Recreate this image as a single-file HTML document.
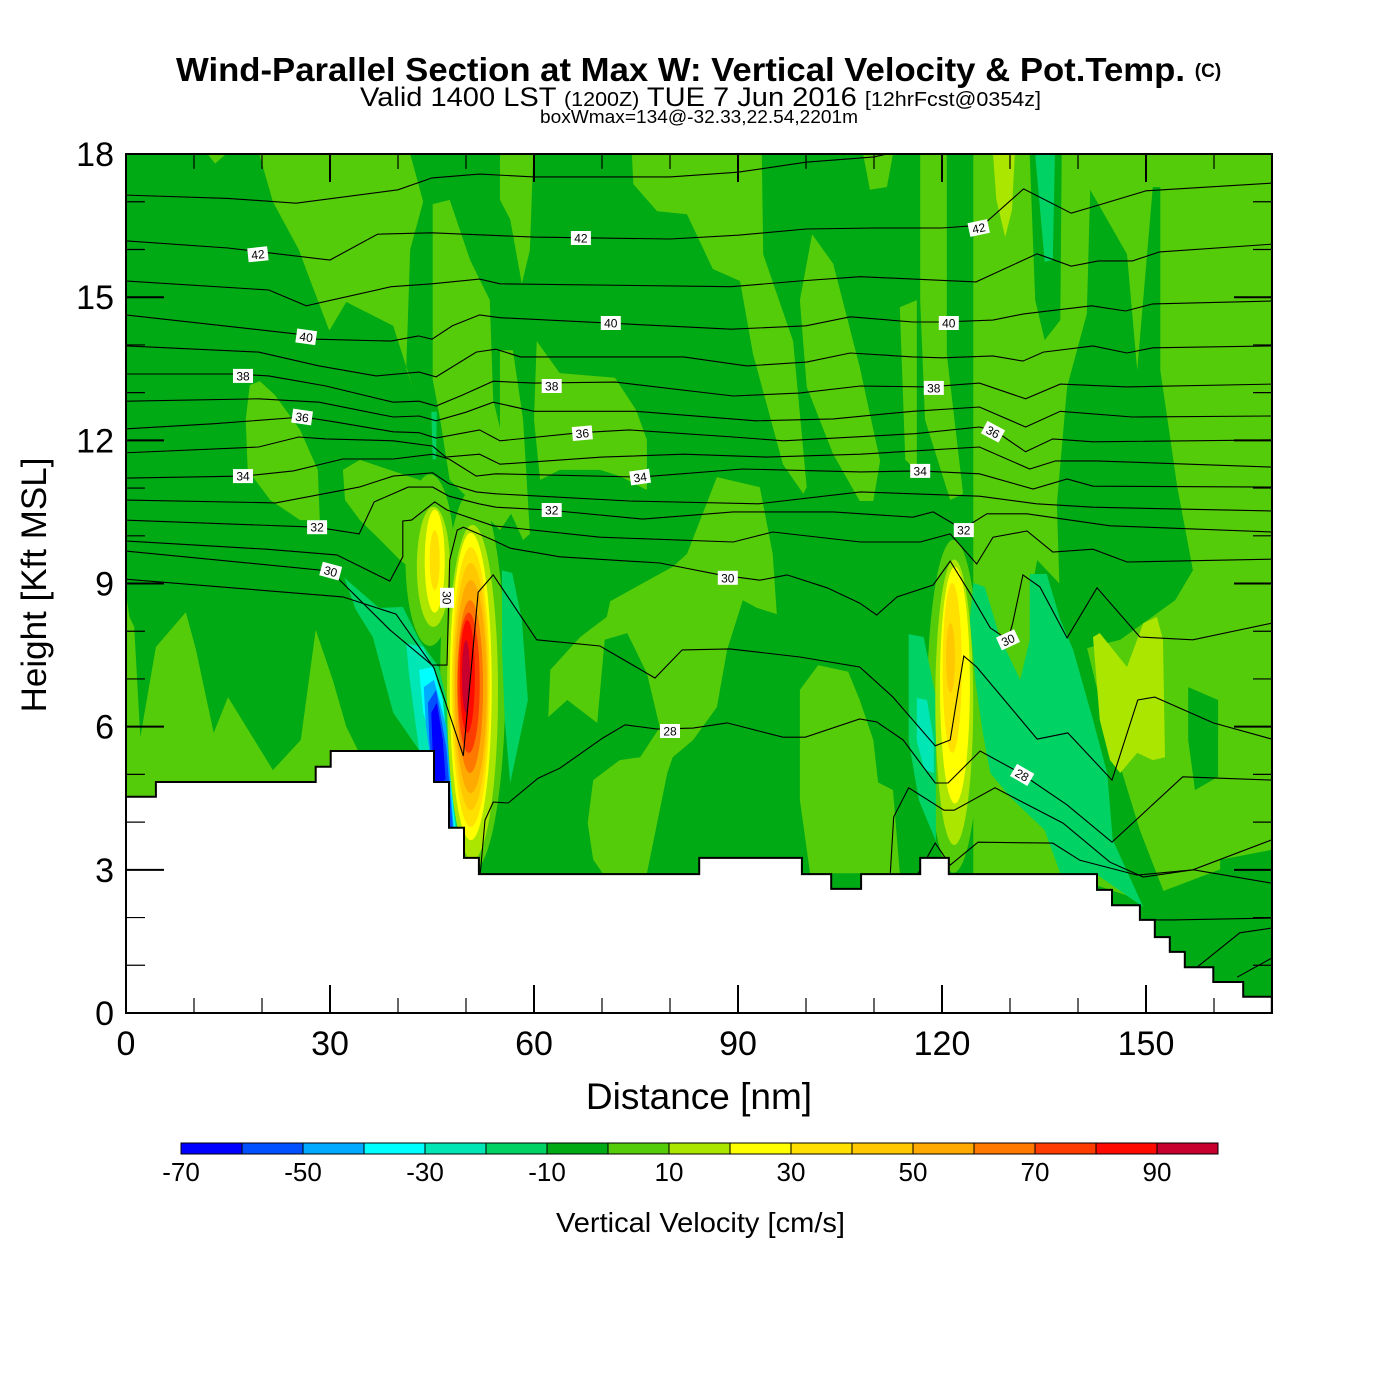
<!DOCTYPE html>
<html><head><meta charset="utf-8"><title>Wind-Parallel Section</title>
<style>
html,body{margin:0;padding:0;background:#fff;}
svg{display:block;font-family:"Liberation Sans",Arial,sans-serif;}
</style></head>
<body>
<svg id="chart" width="1400" height="1400" viewBox="0 0 1400 1400" xmlns="http://www.w3.org/2000/svg">
<rect x="0" y="0" width="1400" height="1400" fill="#ffffff"/>
<g>
<text x="176" y="81" textLength="1009" lengthAdjust="spacingAndGlyphs" font-size="33" font-weight="bold">Wind-Parallel Section at Max W: Vertical Velocity &amp; Pot.Temp.</text>
<text x="1208" y="77" text-anchor="middle" font-size="19" font-weight="bold">(C)</text>
<text x="360" y="106" textLength="681" lengthAdjust="spacingAndGlyphs" font-size="27">Valid 1400 LST <tspan font-size="20">(1200Z)</tspan> TUE 7 Jun 2016 <tspan font-size="20">[12hrFcst@0354z]</tspan></text>
<text x="540" y="123" textLength="318" lengthAdjust="spacingAndGlyphs" font-size="18">boxWmax=134@-32.33,22.54,2201m</text>
</g>
<defs><clipPath id="plotClip"><rect x="126" y="154" width="1146" height="859"/></clipPath></defs>
<g id="plot" clip-path="url(#plotClip)"></g>
<g id="axes"></g>
<g id="cbar"></g>
</svg>
<script>
// ---------------- data ----------------
var binColors = ["#0000ff","#0050ff","#00aaff","#00ffff","#00e6b4","#00d264","#00aa14","#55cc0a","#aae600","#ffff00","#ffe000","#ffc800","#ffaa00","#ff7800","#ff3c00","#ff0a00","#c8002d"];
var binEdges = [-70,-60,-50,-40,-30,-20,-10,0,10,20,30,40,50,60,70,80,90,100];
var cbarTicks = [-70,-50,-30,-10,10,30,50,70,90];
var xTicks = [0,30,60,90,120,150];
var yTicks = [0,3,6,9,12,15,18];

var lightRegions = [
 [[19.6,18],[41.8,18],[43.7,17.0],[41.8,16.0],[41.2,13.5],[42.2,13.1],[39.3,14.4],[32.4,14.9],[29.9,14.3],[27.5,15.2],[25.4,16.0],[21.6,17.0]],
 [[12,18],[14.7,18],[13.1,17.8]],
 [[45.1,16.95],[47.6,17.04],[50.6,15.78],[53.5,14.94],[54,12.85],[56.5,11.38],[58,10.75],[55,10.12],[50.6,10.75],[47.6,11.17],[46.2,12.43],[45.1,13.28]],
 [[55,18],[59.9,18],[59.4,15.99],[58.2,15.28],[56.5,16.63],[55,17.04]],
 [[74.4,18],[93.5,18],[93.7,15.9],[98.1,14.08],[100.1,11.02],[99.6,10.88],[96.6,11.5],[92.2,13.81],[90.3,15.34],[86.3,15.59],[82.5,16.74],[78.1,16.8],[74.6,17.37]],
 [[100.9,16.32],[104,15.7],[107.9,13.54],[110.9,11.57],[109.9,10.73],[107.9,10.73],[104,11.71],[100.1,13.12],[99.1,14.94]],
 [[60.4,14.08],[63.8,13.41],[71.9,13.31],[75,12.64],[76.6,12.01],[76.6,10.96],[72.6,11.25],[69.7,11.38],[63.8,11.38],[60.9,11.17],[60,12.43]],
 [[55,13.89],[56.9,13.89],[58.4,12.43],[59.4,10.04],[58.4,9.91],[55.7,10.75],[55,11.8]],
 [[71.2,8.63],[80.4,9.35],[82.5,9.62],[86.9,11.23],[93.2,11.02],[95.1,9.62],[95.7,8.36],[92.8,8.49],[90.7,8.65],[88.4,7.61],[86.9,6.41],[83.4,5.72],[80.4,5.36],[79.6,5.03],[76.6,2.93],[70.1,2.93],[68.7,3.21],[67.9,3.98],[68.7,4.88],[72.6,5.3],[75.6,5.36],[78.5,5.99],[76.6,7.12],[73.7,7.96],[70.4,7.82],[69.3,6.08],[64.9,6.56],[62.1,6.2],[62.4,7.19],[66.8,7.88],[70.7,8.3]],
 [[99.1,6.77],[101.8,7.29],[106.2,7.15],[107.9,6.56],[109.9,5.72],[110.9,4.46],[110.9,2.93],[100.6,2.93],[99.1,4.46]],
 [[0,8.8],[0.5,8.3],[1.2,8.09],[2.1,5.78],[4.4,7.67],[8.8,8.4],[10.3,7.61],[12.9,5.87],[15,6.62],[21.6,5.09],[25.7,5.72],[27.9,8.03],[30.4,6.98],[32.4,6.0],[34.3,5.45],[34.3,4.0],[0,4.0]],
 [[18.2,13.16],[19.7,13.24],[21.9,12.95],[25.6,12.22],[28.2,11.38],[28.5,10.33],[25.6,10.33],[21.2,10.75],[17.9,11.38],[17.6,12.43]],
 [[31.9,11.38],[34.4,11.59],[38.8,11.38],[43.2,11.17],[45.6,10.75],[46.2,9.49],[43.2,9.18],[40.3,9.49],[37.4,9.91],[34.4,10.33],[32.2,10.75]],
 [[124.6,18],[168.5,18],[168.5,3.42],[149.1,2.37],[137.4,2.93],[124.6,2.93]],
 [[108.4,18],[112.8,18],[111.9,17.31],[109.4,17.25]],
 [[116.8,18],[120.7,18],[120.7,13.81],[123.1,10.88],[121.2,10.75],[117.5,12.43],[116.8,14.94]],
 [[113.8,14.79],[116.3,14.94],[116.3,11.36],[114.6,11.59]],
 [[107.9,5.03],[112.8,4.67],[113.8,2.93],[107.9,2.93]]
];
var darkRegions = [
 [[132.9,18],[137.6,18],[137.4,14.52],[135.1,14.1],[133.7,14.94]],
 [[141.8,17.25],[147.2,15.9],[148.7,13.47],[151,17.31],[152.1,17.31],[152.1,13.47],[154.6,11.02],[156.9,9.28],[154.3,8.65],[146.2,7.82],[140.3,7.61],[137.4,8.36],[136.9,10.67],[138.4,13.12],[141.3,14.65]],
 [[156.2,6.83],[160.6,6.56],[160.6,4.95],[157.2,4.67],[156.2,5.72]],
 [[160.9,3.21],[168.5,3.42],[168.5,0.3],[164.3,0.3],[160.9,2.22]],
 [[134,9.49],[139.6,8.65],[143.2,6.56],[149.1,3.83],[156.5,1.11],[154.3,0.9],[146.2,3.0],[140.3,4.88],[135.9,6.98],[132.9,8.65]]
];
var tealRegions = [
 [[133.7,18],[136.6,18],[136.3,15.78],[135.1,15.74]],
 [[124.6,9.01],[126.3,8.93],[128.5,7.88],[131.5,6.98],[132.9,7.82],[132.9,9.2],[135.4,9.2],[137.4,8.24],[139.3,7.61],[142.2,6.14],[144.3,5.03],[145.1,3.63],[149.6,2.22],[142.5,2.93],[137.4,2.93],[135.1,3.83],[130,4.53],[127.1,5.03],[126,5.87],[124.9,6.98],[124.1,8.24]],
 [[55.3,9.28],[56.8,9.22],[58.2,8.24],[59.1,6.56],[56.5,4.82],[55.7,6.14],[55.3,7.61]],
 [[115.1,7.94],[117.3,7.88],[119.1,6.62],[119.1,3.6],[116.6,4.46],[115.1,5.7]],
 [[44.9,12.6],[45.7,12.6],[45.6,11.6],[45.1,11.6]],
 [[32.1,9.12],[37.2,8.49],[40.7,8.51],[43.1,7.82],[46,7.25],[47.6,6.29],[49.6,3.2],[48.8,3.0],[46,4.6],[43.1,5.51],[39.3,6.29],[36.3,7.88],[33.8,8.45]]
];
var downdraftRegions = [
 [4, [[41.2,7.75],[43.7,7.67],[45.6,7.12],[49.2,3.2],[48.5,3.2],[46,5.45],[43.1,5.51],[41.6,7.12]]],
 [4, [[116.3,6.6],[117.8,6.56],[118.8,5.7],[118.8,5.03],[117.4,5.1],[116.3,5.7]]],
 [3, [[43.1,7.19],[45.1,7.25],[46.6,6.56],[48.8,3.3],[48.0,3.3],[45.6,5.45],[43.7,6.29]]],
 [2, [[43.8,6.83],[45.3,6.98],[47.1,6.0],[48.5,3.3],[47.8,3.3],[45.3,4.82],[44.1,6.0]]],
 [1, [[44.4,6.5],[45.6,6.77],[47.1,5.57],[48.3,3.5],[47.4,3.5],[45.3,4.6],[44.6,5.72]]],
 [0, [[44.9,6.29],[45.7,6.5],[46.6,5.72],[47,4.9],[45.5,4.7],[45.1,5.45]]]
];
var paleRegions = [
 [[142.2,7.88],[143.2,7.96],[147.2,7.25],[149.6,8.17],[151.6,8.3],[152.5,7.82],[152.8,5.36],[151,5.3],[148.7,5.45],[146.2,5.03],[144.7,5.3],[143.2,6.14]],
 [[127.5,18],[130.7,18],[130.3,16.83],[129.3,16.26],[128,17.04]]
];
var updraftEnvelopes = [[51,6.98,4.8,3.99,7],[44.7,9.49,3.6,1.8,7],[121.7,6.43,3.9,3.49,7]];
var updraftCores = [
 [50.96,6.72,3.75,3.51,8],[50.7,6.84,3.09,3.22,9],[50.7,6.83,2.79,2.93,10],[50.7,6.84,2.57,2.59,11],[50.7,6.84,2.35,2.23,12],[50.6,6.84,1.91,1.81,13],[50.4,6.92,1.62,1.47,14],[50.2,7.05,1.10,1.18,15],[50.0,7.05,0.59,0.76,16],
 [45.2,9.35,2.43,1.26,8],[45.4,9.47,1.47,1.08,9],[45.4,9.49,0.74,0.63,10],
 [121.8,6.51,2.79,2.99,8],[121.9,6.87,2.2,2.48,9],[121.5,7.23,1.4,1.78,10],[121.25,7.44,0.66,0.73,11]
];
var terrainX = [0,4.4,27.9,30.1,45.3,47.5,49.7,51.9,84.3,99.4,103.7,108.1,116.8,121,142.8,145,149.1,151.3,153.5,155.7,159.9,164.3,168.5];
var terrainH = [4.53,4.84,5.16,5.49,4.84,3.88,3.25,2.91,3.25,2.91,2.60,2.91,3.25,2.91,2.58,2.26,1.95,1.59,1.28,0.96,0.65,0.34];
var th43 = [[0,17.14],[15,17.07],[25,16.97],[40,17.25],[45,17.5],[52,17.58],[60,17.52],[80,17.52],[90,17.62],[100,17.83],[110,17.94],[115,18.1]];
var th42 = [[0,16.18],[15,16.03],[30,15.78],[37,16.32],[45,16.35],[60,16.26],[80,16.22],[90,16.3],[100,16.43],[110,16.45],[120,16.45],[126,16.51],[132,17.27],[139,16.76],[143,16.93],[150,17.23],[168.5,17.39]];
var th41 = [[0,15.34],[21,15.15],[26.5,14.82],[39,15.22],[45,15.28],[52,15.38],[55,15.28],[89,15.22],[99,15.34],[108,15.43],[125,15.32],[134,15.91],[139,15.65],[143,15.76],[148,15.76],[152,15.95],[168.5,16.11]];
var th40 = [[0,14.63],[25,14.23],[28,14.12],[39,14.08],[43,14.19],[45,14.12],[48,14.4],[52,14.63],[55,14.57],[89,14.33],[100,14.4],[106.5,14.59],[115.7,14.48],[120,14.48],[127.5,14.52],[132,14.65],[142,14.82],[147,14.71],[151,14.86],[168.5,14.92]];
var th39 = [[0,13.98],[19.5,13.85],[28.4,13.56],[36.8,13.35],[43.1,13.43],[45.6,13.33],[51.5,13.85],[54.4,13.91],[58,13.75],[82,13.75],[91.3,13.56],[100.1,13.64],[106.5,13.83],[115.7,13.75],[120.1,13.73],[127.5,13.77],[131.9,13.66],[134.9,13.85],[142.2,13.98],[147.2,13.83],[151,13.94],[168.5,13.98]];
var th38 = [[0,13.39],[16,13.39],[21,13.35],[29.4,13.14],[39.3,12.8],[43.1,12.82],[45.6,12.72],[49.5,12.95],[54,13.24],[60,13.2],[72,13.22],[89.3,12.93],[99,12.99],[108,13.14],[118,13.12],[125.5,13.2],[132.3,12.87],[137.4,13.18],[147.2,13.12],[168.5,13.18]];
var th37 = [[0,12.82],[19.5,12.87],[28.4,12.8],[39.3,12.49],[43.1,12.51],[45.6,12.41],[50,12.59],[54,12.8],[60,12.61],[75,12.61],[92.6,12.41],[104,12.45],[115.7,12.61],[125.5,12.7],[132.3,12.28],[137.4,12.61],[148,12.49],[168.5,12.51]];
var th36 = [[0,12.24],[13,12.35],[26,12.49],[30.5,12.39],[39.3,12.18],[43.1,12.16],[45.6,12.05],[52,12.22],[55,11.99],[66.8,12.16],[74,12.22],[89.3,12.07],[96.7,11.99],[116,12.14],[125.5,12.28],[127.8,12.2],[132.3,11.76],[136.3,12.03],[142.2,11.97],[168.5,12.01]];
var th35 = [[0,11.74],[19.5,11.86],[25.4,12.07],[29.4,12.03],[39.3,11.99],[45.1,11.88],[47,11.65],[52,11.71],[55,11.5],[70,11.65],[82,11.71],[94.3,11.65],[108,11.71],[125.5,11.86],[132.9,11.4],[136.7,11.57],[142.6,11.57],[168.5,11.44]];
var th34 = [[0,11.21],[17.4,11.25],[24.6,11.36],[31.9,11.61],[39.3,11.61],[45.1,11.71],[47.5,11.61],[51.5,11.25],[54.4,11.3],[75.6,11.23],[90.7,11.4],[108,11.34],[116.8,11.36],[125.5,11.3],[133.4,10.98],[138.4,11.19],[142.2,11.04],[168.5,11.02]];
var th33 = [[0,10.75],[22,10.69],[34.3,11.02],[39.3,11.25],[45.1,11.32],[47.5,11.09],[51.5,10.92],[54.4,10.88],[74,10.73],[93,10.67],[108,10.92],[125.5,10.83],[133.9,10.67],[142.2,10.6],[168.5,10.52]];
var th32 = [[0,10.33],[28,10.18],[34.3,10.04],[36.5,10.71],[41.5,11.02],[45.1,11.02],[47.5,10.83],[51.9,10.67],[54.4,10.6],[62,10.54],[76,10.35],[89.3,10.5],[104,10.5],[115.7,10.39],[118.7,10.5],[123,10.14],[126.6,10.46],[132.5,10.46],[144.7,10.21],[168.5,10.08]];
var th31 = [[0,9.89],[20.6,9.72],[31,9.6],[38.8,9.05],[40.7,9.56],[40.7,10.31],[42,10.33],[45.4,10.71],[47.2,10.54],[54,10.21],[69.7,9.97],[89.3,9.87],[95.1,10.08],[108,9.87],[116.8,9.87],[121.2,10.04],[125.1,9.41],[127.5,9.97],[132.5,10.1],[136.3,9.66],[142.2,9.72],[147.2,9.45],[168.5,9.51]];
var th30 = [[0,9.68],[30.1,9.26],[38.8,8.03],[45,7.29],[47.2,7.29],[47.6,9.49],[48.7,10.12],[49.6,10.18],[54,9.91],[56.5,9.74],[63.8,9.56],[78.5,9.43],[87.4,9.18],[93.2,9.07],[97.2,9.18],[103.1,8.91],[107.9,8.59],[110.4,8.34],[113.4,8.72],[118.7,8.97],[121.2,9.47],[124.1,8.8],[127.1,8.07],[129.7,7.82],[130.4,8.17],[131.9,9.18],[134.4,8.93],[138.4,7.86],[142.8,8.91],[149.1,7.88],[156.9,7.82],[168.5,8.17]];
var th29 = [[0,9.09],[31.9,8.72],[39.7,8.36],[45.3,7.23],[49.6,5.39],[51.8,8.82],[54,9.18],[60.4,7.82],[69.7,7.69],[77.8,7.02],[81.8,7.61],[88.8,7.63],[99.1,7.46],[107.9,7.25],[112.8,6.62],[119,5.6],[121.2,5.72],[123.2,7.48],[125.1,7.25],[134,5.74],[138.5,5.87],[145,4.88],[148.8,6.56],[151.3,6.62],[159.9,6.08],[168.5,5.74]];
var th28 = [[52.1,2.93],[52.8,4.04],[54,4.42],[56.2,4.4],[60.6,4.92],[63.8,5.13],[70.1,5.76],[73.4,6.04],[78.1,5.95],[83.4,5.97],[88.4,6.08],[96.6,5.78],[99.9,5.78],[107.9,6.16],[110.4,6.1],[114.3,5.72],[119,4.82],[120.9,4.82],[125.6,5.49],[131.5,5.03],[138.4,4.36],[145,3.58],[155.4,4.95],[168.5,4.88]];
var th27 = [[112.4,2.93],[112.9,4.11],[115.1,4.72],[120.3,4.25],[121.8,4.25],[127.8,4.72],[137.8,3.98],[144.7,3.16],[149.6,2.85],[156.9,3.0],[168.5,3.63]];
var th26 = [[116.5,2.93],[119,3.56],[121.2,3.1],[125.3,3.58],[136.3,3.56],[140.3,3.2],[148.7,2.89],[157,3.0],[168.5,2.72]];
var th25 = [[149.1,1.95],[154,1.95],[168.5,1.99]];
var th24 = [[157.5,0.96],[163.8,1.68],[168.5,1.78]];
var th23 = [[163.4,0.75],[168.5,1.15]];
var thetaLines = [th43,th42,th41,th40,th39,th38,th37,th36,th35,th34,th33,th32,th31,th30,th29,th28,th27,th26,th25,th24,th23];
var labelText = ["42","42","42","40","40","40","38","38","38","36","36","36","34","34","34","32","32","32","30","30","30","30","28","28"];
var labelX = [19.4,66.9,125.4,26.5,71.3,121,17.2,62.6,118.8,25.9,67.1,127.5,17.2,75.6,116.8,28.1,62.6,123.2,30.1,88.5,47.2,129.7,80,131.8];
var labelY = [15.9,16.24,16.45,14.17,14.46,14.46,13.35,13.14,13.1,12.49,12.15,12.18,11.25,11.23,11.36,10.18,10.54,10.12,9.26,9.12,8.7,7.82,5.91,4.99];
var labelAngle = [-6,0,-12,8,0,0,0,0,0,8,-5,28,0,-8,0,0,0,0,15,0,90,-25,0,30];

// ---------------- scales ----------------
var X0=126, Y0=1013, PXNM=6.8, PXK=47.72;
function xs(nm){return X0+nm*PXNM;}
function ys(k){return Y0-k*PXK;}
var NS="http://www.w3.org/2000/svg";
function mk(tag, parent){var e=document.createElementNS(NS,tag); parent.appendChild(e); return e;}
function ptsStr(p){return p.map(function(q){return xs(q[0]).toFixed(1)+","+ys(q[1]).toFixed(1);}).join(" ");}

var plot=document.getElementById("plot");
var bg=mk("rect",plot);


bg.setAttribute("x",xs(0)); bg.setAttribute("y",ys(18)); bg.setAttribute("width",xs(168.5)-xs(0)); bg.setAttribute("height",ys(0)-ys(18)); bg.setAttribute("fill",binColors[6]);

function drawPolys(list, color, name){
  list.forEach(function(p){
    var e=mk("polygon",plot);
    
    
    e.setAttribute("points",ptsStr(p)); e.setAttribute("fill",color);
  });
}
drawPolys(lightRegions, binColors[7], 'velocity-region-0-10');
drawPolys(darkRegions, binColors[6], 'velocity-region-minus10-0');
function drawEll(list, name){
  list.forEach(function(c){
    var e=mk("ellipse",plot);
    
    
    e.setAttribute("cx",xs(c[0])); e.setAttribute("cy",ys(c[1]));
    e.setAttribute("rx",c[2]*PXNM); e.setAttribute("ry",c[3]*PXK);
    e.setAttribute("fill",binColors[c[4]]);
  });
}
drawEll(updraftEnvelopes, 'updraft-envelope');
drawPolys(tealRegions, binColors[5], 'velocity-region-minus20-minus10');
downdraftRegions.forEach(function(d){
  var e=mk("polygon",plot);
  
  
  e.setAttribute("points",ptsStr(d[1])); e.setAttribute("fill",binColors[d[0]]);
});
drawPolys(paleRegions, binColors[8], 'velocity-region-10-20');
drawEll(updraftCores, 'updraft-core');

thetaLines.forEach(function(line){
  var e=mk("polyline",plot);
  
  
  e.setAttribute("points",ptsStr(line)); e.setAttribute("fill","none"); e.setAttribute("stroke","#000"); e.setAttribute("stroke-width","1.1");
});

var tp=[[0,0]];
for(var i=0;i<terrainH.length;i++){tp.push([terrainX[i],terrainH[i]]); tp.push([terrainX[i+1],terrainH[i]]);}
tp.push([168.5,0]);
var ter=mk("polygon",plot);


ter.setAttribute("points",ptsStr(tp)); ter.setAttribute("fill","#fff"); ter.setAttribute("stroke","#000"); ter.setAttribute("stroke-width","2");

for(var j=0;j<labelText.length;j++){
  var g=mk("g",plot);
  
  
  g.setAttribute("transform","translate("+xs(labelX[j]).toFixed(1)+","+ys(labelY[j]).toFixed(1)+") rotate("+labelAngle[j]+")");
  var r=mk("rect",g); r.setAttribute("x",-10); r.setAttribute("y",-7); r.setAttribute("width",20); r.setAttribute("height",14); r.setAttribute("fill","#fff");
  var t=mk("text",g); t.setAttribute("x",0); t.setAttribute("y",4.5); t.setAttribute("text-anchor","middle"); t.setAttribute("font-size","12"); t.textContent=labelText[j];
}

var ax=document.getElementById("axes");
var fr=mk("rect",ax);


fr.setAttribute("x",126); fr.setAttribute("y",154); fr.setAttribute("width",1146); fr.setAttribute("height",859); fr.setAttribute("fill","none"); fr.setAttribute("stroke","#000"); fr.setAttribute("stroke-width","2");
function line(p,x1,y1,x2,y2,w,name){var l=mk("line",p);
  
  
  l.setAttribute("x1",x1);l.setAttribute("y1",y1);l.setAttribute("x2",x2);l.setAttribute("y2",y2);l.setAttribute("stroke","#000");l.setAttribute("stroke-width",w);}
for(var n=10;n<168;n+=10){
  var major=(n%30===0); var L=major?28:15;
  line(ax,xs(n),1013,xs(n),1013-L,major?2:1.2,'x-tick');
  line(ax,xs(n),154,xs(n),154+L,major?2:1.2,'x-tick-top');
}
for(var k=1;k<18;k++){
  var mj=(k%3===0); var LL=mj?38:19;
  line(ax,126,ys(k),126+LL,ys(k),mj?2:1.2,'y-tick');
  line(ax,1272,ys(k),1272-LL,ys(k),mj?2:1.2,'y-tick-right');
}
xTicks.forEach(function(v){var t=mk("text",ax);
  
  
  t.setAttribute("x",xs(v)); t.setAttribute("y",1055); t.setAttribute("text-anchor","middle"); t.setAttribute("font-size","34"); t.textContent=v;});
yTicks.forEach(function(v){var t=mk("text",ax);
  
  
  t.setAttribute("x",114); t.setAttribute("y",ys(v)+12); t.setAttribute("text-anchor","end"); t.setAttribute("font-size","34"); t.textContent=v;});
var xt=mk("text",ax);


xt.setAttribute("x",699); xt.setAttribute("y",1109); xt.setAttribute("text-anchor","middle"); xt.setAttribute("font-size","37"); xt.textContent="Distance [nm]";
var yt=mk("text",ax);


yt.setAttribute("transform","translate(46,585) rotate(-90)"); yt.setAttribute("text-anchor","middle"); yt.setAttribute("font-size","35"); yt.textContent="Height [Kft MSL]";

var cb=document.getElementById("cbar");
var CB0=181, CBW=61, CBY=1143, CBH=11;
function cbx(v){return CB0+(v-binEdges[0])/10*CBW;}
for(var b=0;b<binColors.length;b++){
  var r2=mk("rect",cb);
  
  
  r2.setAttribute("x",cbx(binEdges[b])); r2.setAttribute("y",CBY); r2.setAttribute("width",CBW); r2.setAttribute("height",CBH); r2.setAttribute("fill",binColors[b]); r2.setAttribute("stroke","#000"); r2.setAttribute("stroke-width","1");
}
cbarTicks.forEach(function(v){var t=mk("text",cb);
  
  
  t.setAttribute("x",cbx(v)); t.setAttribute("y",1181); t.setAttribute("text-anchor","middle"); t.setAttribute("font-size","26"); t.textContent=v;});
var ct=mk("text",cb);


ct.setAttribute("x",556); ct.setAttribute("y",1232); ct.setAttribute("textLength","289"); ct.setAttribute("lengthAdjust","spacingAndGlyphs"); ct.setAttribute("font-size","28"); ct.textContent="Vertical Velocity [cm/s]";
</script>
</body></html>
